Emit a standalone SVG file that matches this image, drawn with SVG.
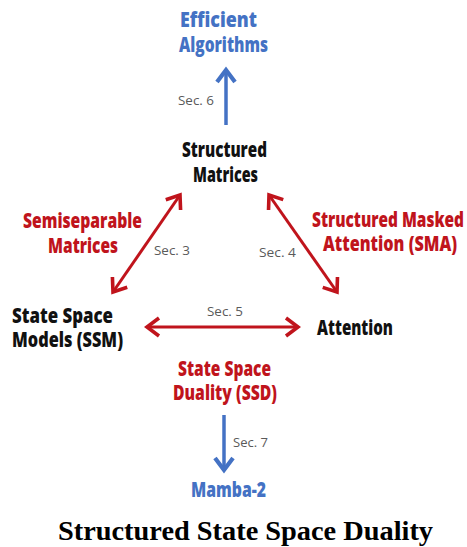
<svg xmlns="http://www.w3.org/2000/svg" width="467" height="547" viewBox="0 0 467 547">
  <style>
    .lbl { font-family: "Open Sans", "Liberation Sans", sans-serif; font-weight: 800; font-size: 21px; }
    .blk { fill: #111111; }
    .red { fill: #C0141C; }
    .blu { fill: #4472C4; }
    .sec { font-family: "Open Sans", "Liberation Sans", sans-serif; font-size: 13.5px; fill: #5a5a5a; }
    .cap { font-family: "Liberation Serif", "Times New Roman", serif; font-weight: 700; font-size: 28px; fill: #000; }
    .rline { stroke: #C0141C; stroke-width: 3; fill: none; }
    .bline { stroke: #4472C4; stroke-width: 3.5; fill: none; }
  </style>
  <defs>
    <marker id="headRed" markerUnits="userSpaceOnUse" markerWidth="24" markerHeight="24" viewBox="-14 -10 18 20" refX="0" refY="0" orient="auto-start-reverse">
      <path d="M-10,-7.5 L0,0 L-10,7.5" fill="none" stroke="#C0141C" stroke-width="3" stroke-linejoin="miter"/>
    </marker>
    <marker id="headBlue" markerUnits="userSpaceOnUse" markerWidth="24" markerHeight="24" viewBox="-14 -10 18 20" refX="0" refY="0" orient="auto-start-reverse">
      <path d="M-10,-7.5 L0,0 L-10,7.5" fill="none" stroke="#4472C4" stroke-width="3.5" stroke-linejoin="miter"/>
    </marker>
  </defs>
  <rect width="467" height="547" fill="#ffffff"/>

  <!-- connectors and their section labels -->
  <g id="connectors">
    <line class="bline" x1="226" y1="125" x2="226" y2="70" marker-end="url(#headBlue)"/>
    <line class="rline" x1="180" y1="195" x2="113" y2="292" marker-start="url(#headRed)" marker-end="url(#headRed)"/>
    <line class="rline" x1="269" y1="195" x2="337" y2="292" marker-start="url(#headRed)" marker-end="url(#headRed)"/>
    <line class="rline" x1="147" y1="327" x2="298" y2="327" marker-start="url(#headRed)" marker-end="url(#headRed)"/>
    <line class="bline" x1="224" y1="415" x2="224" y2="470" marker-end="url(#headBlue)"/>
    <text class="sec" x="178" y="105" textLength="36" lengthAdjust="spacingAndGlyphs">Sec. 6</text>
    <text class="sec" x="154" y="255" textLength="36" lengthAdjust="spacingAndGlyphs">Sec. 3</text>
    <text class="sec" x="259" y="257" textLength="37" lengthAdjust="spacingAndGlyphs">Sec. 4</text>
    <text class="sec" x="207" y="316" textLength="36" lengthAdjust="spacingAndGlyphs">Sec. 5</text>
    <text class="sec" x="233" y="447" textLength="35" lengthAdjust="spacingAndGlyphs">Sec. 7</text>
    <text class="lbl red">
      <tspan x="23" y="228" textLength="119" lengthAdjust="spacingAndGlyphs">Semiseparable</tspan>
      <tspan x="48" y="253" textLength="70" lengthAdjust="spacingAndGlyphs">Matrices</tspan>
    </text>
    <!-- narrow label at the right edge: horizontally condensed -->
    <g transform="translate(312,0) scale(0.75,1)">
      <text class="lbl red">
        <tspan x="0" y="227" textLength="202.7" lengthAdjust="spacingAndGlyphs">Structured Masked</tspan>
        <tspan x="14.7" y="251" textLength="178.7" lengthAdjust="spacingAndGlyphs">Attention (SMA)</tspan>
      </text>
    </g>
    <text class="lbl red">
      <tspan x="178" y="376" textLength="93" lengthAdjust="spacingAndGlyphs">State Space</tspan>
      <tspan x="173" y="400" textLength="104" lengthAdjust="spacingAndGlyphs">Duality (SSD)</tspan>
    </text>
  </g>

  <g id="efficient-algorithms">
    <text class="lbl blu">
      <tspan x="180" y="27" textLength="77" lengthAdjust="spacingAndGlyphs">Efficient</tspan>
      <tspan x="179" y="52" textLength="89" lengthAdjust="spacingAndGlyphs">Algorithms</tspan>
    </text>
  </g>

  <g id="structured-matrices">
    <text class="lbl blk">
      <tspan x="182" y="157" textLength="85" lengthAdjust="spacingAndGlyphs">Structured</tspan>
      <tspan x="193" y="182" textLength="65" lengthAdjust="spacingAndGlyphs">Matrices</tspan>
    </text>
  </g>

  <g id="ssm">
    <text class="lbl blk">
      <tspan x="12" y="323" textLength="101" lengthAdjust="spacingAndGlyphs">State Space</tspan>
      <tspan x="12" y="347" textLength="111" lengthAdjust="spacingAndGlyphs">Models (SSM)</tspan>
    </text>
  </g>

  <g id="attention">
    <text class="lbl blk" x="317" y="335" textLength="76" lengthAdjust="spacingAndGlyphs">Attention</text>
  </g>

  <g id="mamba-2">
    <text class="lbl blu" x="191" y="497" textLength="75" lengthAdjust="spacingAndGlyphs">Mamba-2</text>
  </g>

  <text class="cap" x="58" y="540" textLength="375" lengthAdjust="spacingAndGlyphs">Structured State Space Duality</text>
</svg>
